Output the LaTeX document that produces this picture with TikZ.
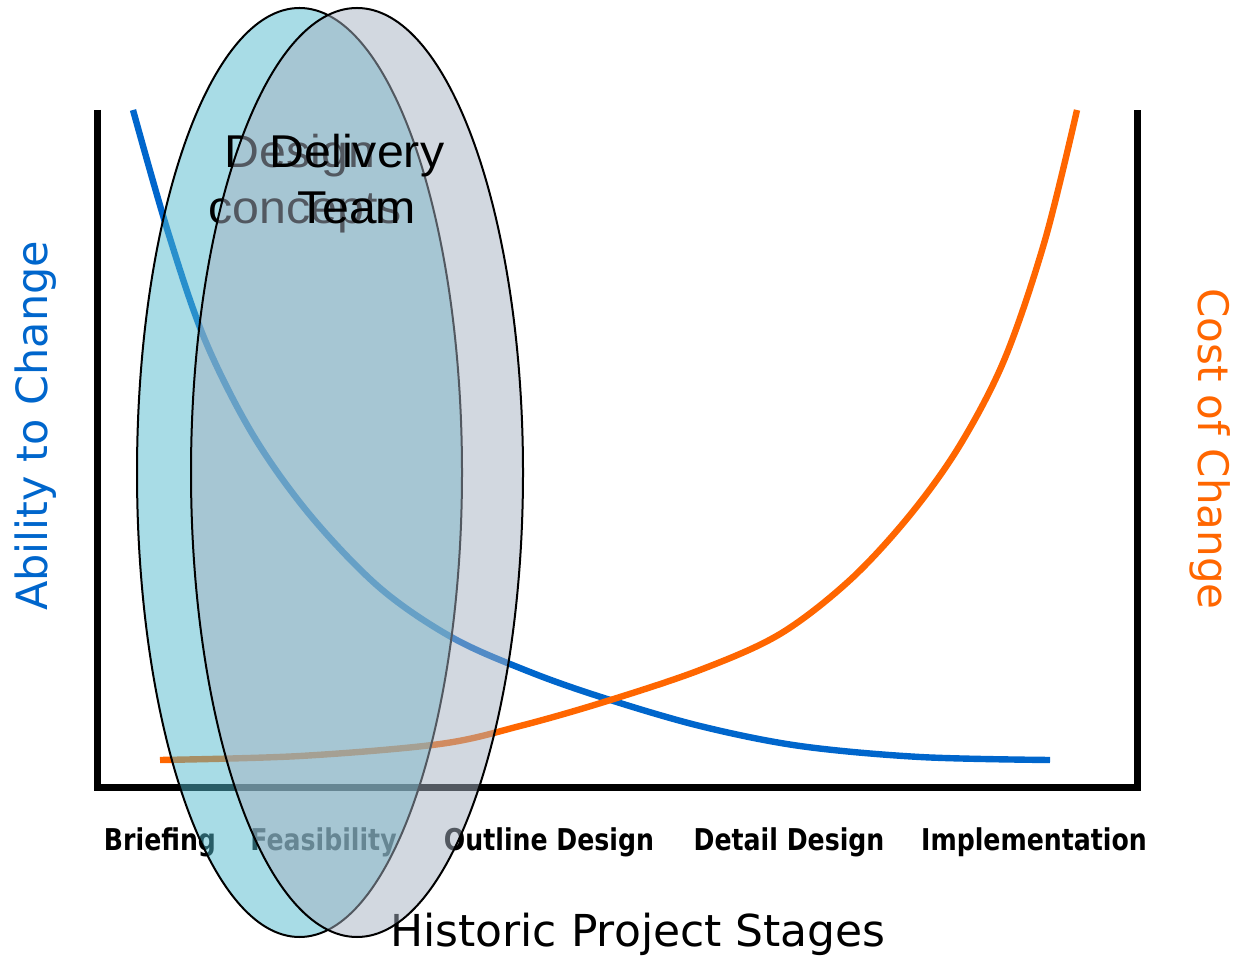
\documentclass[tikz,border=0pt]{standalone}
\usepackage{fontspec}
\usetikzlibrary{shapes.geometric}
\definecolor{ablue}{HTML}{0066CC}
\definecolor{corange}{HTML}{FF6600}
\definecolor{cyanfill}{RGB}{81,185,205}
\definecolor{greyfill}{RGB}{165,177,193}
\newfontfamily\stagefont[FakeStretch=0.84]{DejaVu Sans}
\newfontfamily\axisfont{DejaVu Sans}
\newfontfamily\teamfont[FakeStretch=1.05]{Liberation Sans}
\begin{document}
\begin{tikzpicture}[x=0.5pt,y=-0.5pt,
  axisline/.style={line width=3.5pt, line join=miter},
  curve/.style={line width=3.2pt, line join=round},
  stage/.style={font=\stagefont\bfseries\fontsize{15pt}{18pt}\selectfont, anchor=base, inner sep=0pt},
  axislabel/.style={font=\axisfont\fontsize{21.5pt}{26pt}\selectfont, anchor=base, inner sep=0pt},
  teamtext/.style={font=\teamfont\fontsize{23pt}{28pt}\selectfont, anchor=base, inner sep=0pt},
  oval/.style={ellipse, draw=black, line width=1pt, fill opacity=0.5, inner sep=0pt}]
\useasboundingbox (0,0) rectangle (1240,961);
% axes
\coordinate (tl) at (97,110);
\coordinate (bl) at (97,787);
\coordinate (br) at (1137,787);
\coordinate (tr) at (1137,110);
\draw[axisline] (tl) -- (bl) -- (br) -- (tr);
% curves
\draw[curve, ablue] plot[smooth, tension=0.55] coordinates {(133,110) (168,232) (205,340) (253,435) (310,515) (380,588) (453,638) (530,672) (604,698) (700,726) (800,746) (920,757) (1050,760)};
\draw[curve, corange] plot[smooth, tension=0.55] coordinates {(160,760) (300,756) (440,744) (520,726) (604,702) (700,670) (780,634) (850,580) (910,515) (960,445) (1005,358) (1045,240) (1077,110)};
% axis labels
\node[axislabel, ablue, rotate=90] (ability) at (47,426) {Ability to Change};
\node[axislabel, corange, rotate=-90, font=\axisfont\fontsize{21pt}{26pt}\selectfont] (cost) at (1198,449) {Cost of Change};
\node[axislabel, font=\axisfont\fontsize{22pt}{26pt}\selectfont] (stages) at (638,946) {Historic Project Stages};
% stage labels
\node[stage] (s1) at (160,850) {Briefing};
\node[stage] (s2) at (323.5,850) {Feasibility};
\node[stage] (s3) at (549,850) {Outline Design};
\node[stage] (s4) at (789,850) {Detail Design};
\node[stage] (s5) at (1034,850) {Implementation};
% ovals
\node[oval, fill=cyanfill, minimum width=162.5pt, minimum height=464.5pt] (design) at (299.5,472.5) {};
\node[teamtext] (design1) at (300,168) {Design};
\node[teamtext] (design2) at (305,224) {concepts};
\node[oval, fill=greyfill, minimum width=166pt, minimum height=464.5pt] (team) at (357,472.5) {};
\node[teamtext] (team1) at (357,168) {Delivery};
\node[teamtext] (team2) at (357,224) {Team};
\end{tikzpicture}
\end{document}
